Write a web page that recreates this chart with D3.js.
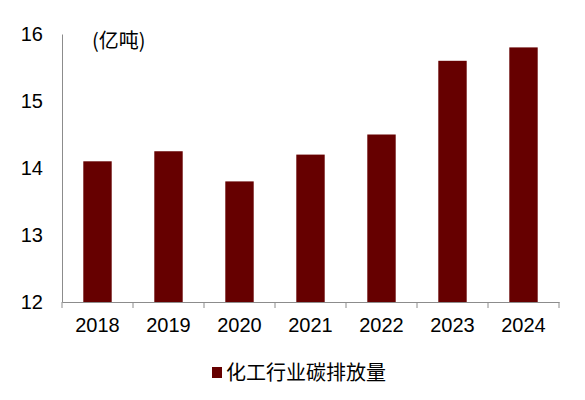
<!DOCTYPE html>
<html>
<head>
<meta charset="utf-8">
<script src="https://cdn.jsdelivr.net/npm/d3@7"></script>
<style>
  body { margin: 0; background: #fff; }
</style>
</head>
<body>
<div id="chart"></div>
<script>
const years = ["2018", "2019", "2020", "2021", "2022", "2023", "2024"];
const emissions = [14.1, 14.25, 13.8, 14.2, 14.5, 15.6, 15.8];
const yTicks = [12, 13, 14, 15, 16];
const unitLabel = "(亿吨)";
const seriesName = "化工行业碳排放量";

const width = 585, height = 400;
const margin = { top: 34, right: 26, bottom: 98, left: 62 };

const svg = d3.select("#chart").append("svg")
  .attr("width", width)
  .attr("height", height);

const x = d3.scaleBand()
  .domain(years)
  .range([margin.left, width - margin.right])
  .paddingInner(0.6)
  .paddingOuter(0.3);

const y = d3.scaleLinear()
  .domain([12, 16])
  .range([height - margin.bottom, margin.top]);

const barColor = "#660000";
const axisColor = "#8c8c8c";
const font = "'Liberation Sans', Arial, sans-serif";

// bars
svg.append("g")
  .selectAll("rect")
  .data(years)
  .join("rect")
  .attr("x", d => x(d))
  .attr("y", (d, i) => y(emissions[i]))
  .attr("width", x.bandwidth())
  .attr("height", (d, i) => y(12) - y(emissions[i]))
  .attr("fill", barColor);

// y axis: line only, no ticks
const yAxis = svg.append("g")
  .attr("transform", `translate(${margin.left},0)`)
  .call(d3.axisLeft(y).tickValues(yTicks).tickFormat(d3.format("d")).tickSize(0).tickPadding(19));
yAxis.select(".domain").attr("stroke", axisColor);
yAxis.selectAll("text")
  .attr("font-family", font)
  .attr("font-size", "20px")
  .attr("fill", "#000");

// x axis with ticks at category boundaries
const xAxis = svg.append("g")
  .attr("transform", `translate(0,${y(12)})`)
  .call(d3.axisBottom(x).tickSize(0).tickPadding(16));
xAxis.select(".domain").attr("stroke", axisColor);
xAxis.selectAll("text")
  .attr("font-family", font)
  .attr("font-size", "20px")
  .attr("fill", "#000");

const step = x.step();
const bounds = d3.range(years.length + 1).map(i => margin.left + i * step);
xAxis.selectAll(".bound")
  .data(bounds)
  .join("line")
  .attr("class", "bound")
  .attr("x1", d => d).attr("x2", d => d)
  .attr("y1", 0).attr("y2", 6)
  .attr("stroke", axisColor);

// unit label
svg.append("text")
  .attr("x", 92)
  .attr("y", 48)
  .attr("font-family", "'Noto Sans CJK SC', sans-serif")
  .attr("font-size", "20px")
  .attr("fill", "#000")
  .text(unitLabel);

// legend
const legend = svg.append("g").attr("transform", "translate(212,367)");
legend.append("rect")
  .attr("width", 10)
  .attr("height", 11)
  .attr("fill", barColor);
legend.append("text")
  .attr("x", 14)
  .attr("y", 13)
  .attr("font-family", "'Noto Sans CJK SC', sans-serif")
  .attr("font-size", "20px")
  .attr("fill", "#000")
  .text(seriesName);
</script>
</body>
</html>
